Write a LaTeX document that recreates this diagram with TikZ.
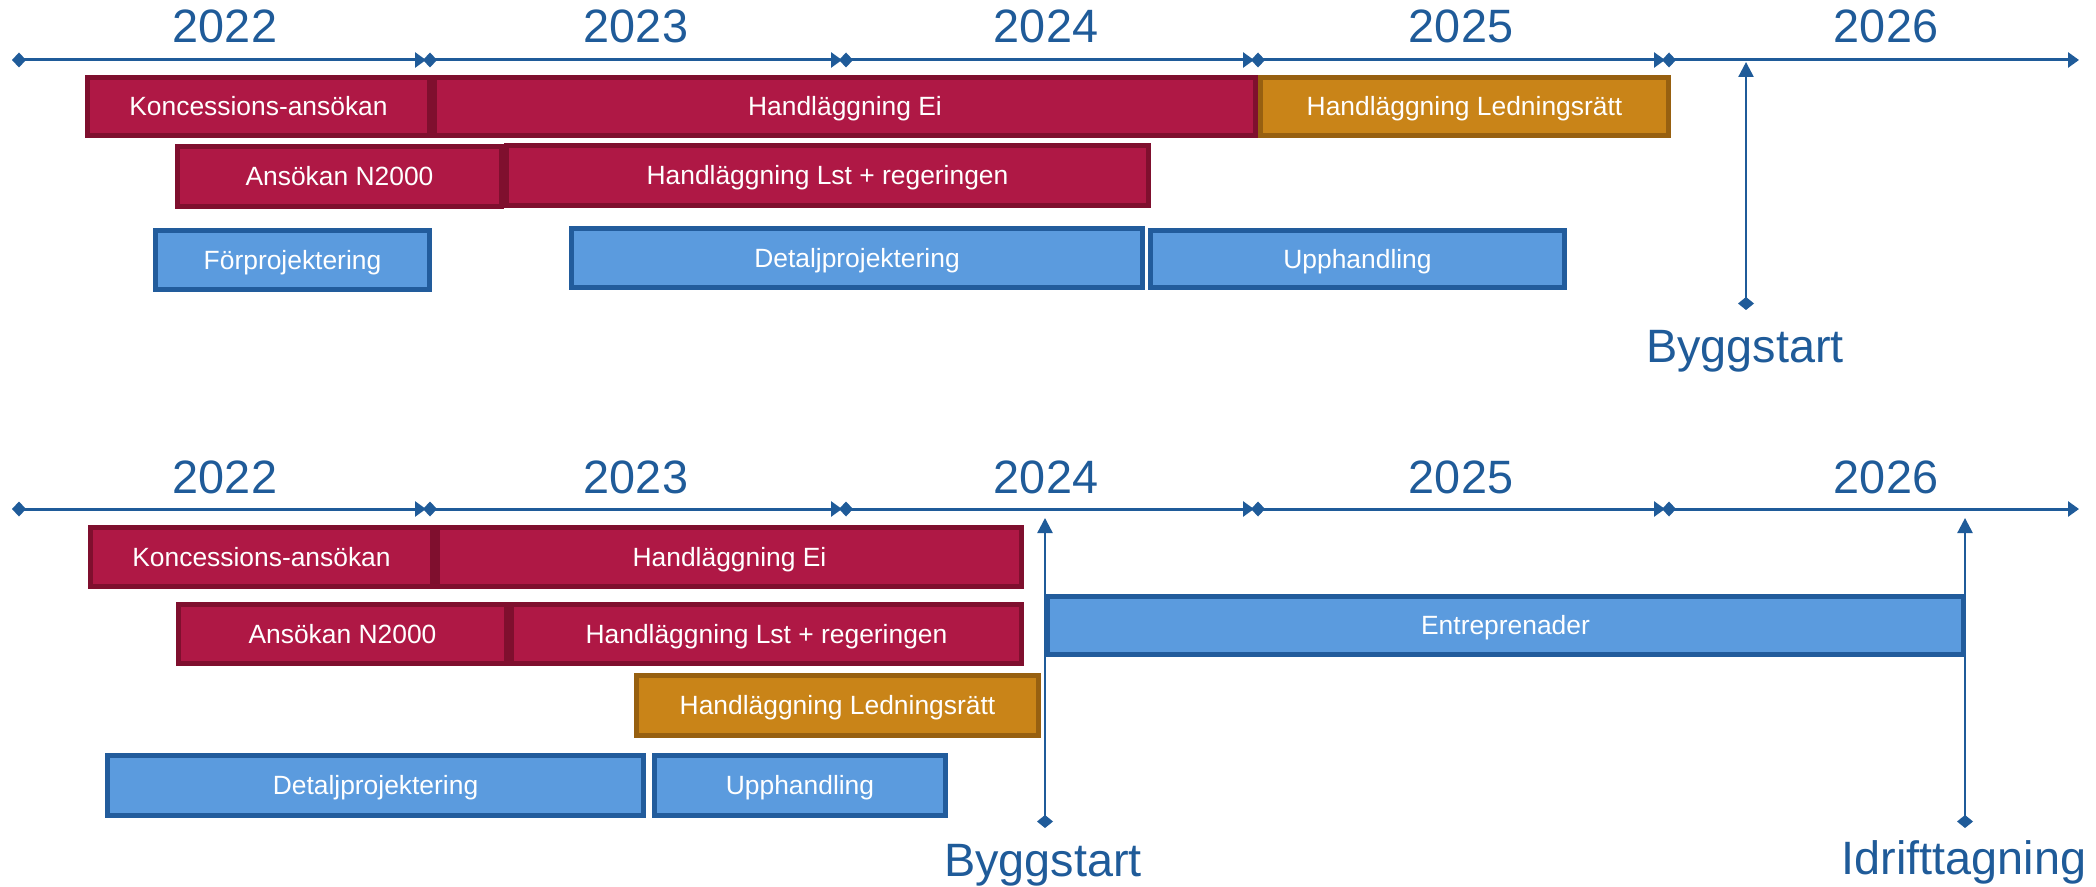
\documentclass[tikz,border=0pt]{standalone}
\usepackage{fontspec}
\setmainfont{Liberation Sans}
\usetikzlibrary{arrows.meta}
\definecolor{axisblue}{HTML}{1F5B99}
\definecolor{redfill}{HTML}{AF1845}
\definecolor{redline}{HTML}{7F0F2E}
\definecolor{orfill}{HTML}{C98418}
\definecolor{orline}{HTML}{976010}
\definecolor{blfill}{HTML}{5B9BDE}
\definecolor{blline}{HTML}{225C9C}
\tikzset{
  axisline/.style={axisblue, line width=1.5pt, {Diamond[length=7pt,width=7.5pt]}-{Triangle[length=5.5pt,width=7.5pt]}},
  mile/.style={axisblue, line width=1.2pt, {Diamond[length=6.5pt,width=8pt]}-{Triangle[length=7.5pt,width=7.5pt]}},
  bartext/.style={text=white, font=\fontsize{13.2}{15}\selectfont, text height=9.45pt, text depth=0pt, inner sep=0pt, line width=2.5pt},
  redbar/.style={bartext, fill=redfill, draw=redline},
  orangebar/.style={bartext, fill=orfill, draw=orline},
  bluebar/.style={bartext, fill=blfill, draw=blline},
  year/.style={text=axisblue, font=\fontsize{23.4}{28}\selectfont, anchor=base, inner sep=0pt},
}
\newcommand\gbar[7]{\node[#6, minimum width={(#4-#2)*0.5pt-2.5pt}, minimum height={(#5-#3)*0.5pt-2.5pt}] (#1) at ({(#2+#4)/2},{(#3+#5)/2}) {#7};}
\begin{document}
\begin{tikzpicture}[x=0.5pt,y=-0.5pt]
\path[use as bounding box] (0,0) rectangle (2096,887);
% ---------- top panel ----------
\foreach \s/\e [count=\i] in {12/426,423/842,839/1254,1251/1665,1662/2079}{
  \coordinate (ts\i) at (\s,60);
  \coordinate (te\i) at (\e,60);
  \draw[axisline] (ts\i) -- (te\i);
}
\node[year] (y1a) at (225,43) {2022};
\node[year] (y1b) at (636,43) {2023};
\node[year] (y1c) at (1046,43) {2024};
\node[year] (y1d) at (1461,43) {2025};
\node[year] (y1e) at (1886,43) {2026};
\coordinate (bs1a) at (1746,310);
\coordinate (bs1b) at (1746,62);
\draw[mile] (bs1a) -- (bs1b);
\node[year] (bs1) at (1745,362) {Byggstart};
\gbar{k1}{85}{75}{432}{138}{redbar}{Koncessions-ansökan}
\gbar{ei1}{432}{75}{1258}{138}{redbar}{Handläggning Ei}
\gbar{led1}{1258}{75}{1671}{138}{orangebar}{Handläggning Ledningsrätt}
\gbar{n1}{175}{144}{504}{209}{redbar}{Ansökan N2000}
\gbar{lst1}{504}{143}{1151}{208}{redbar}{Handläggning Lst + regeringen}
\gbar{fp1}{153}{228}{432}{292}{bluebar}{Förprojektering}
\gbar{dp1}{569}{226}{1145}{290}{bluebar}{Detaljprojektering}
\gbar{up1}{1148}{228}{1567}{290}{bluebar}{Upphandling}
% ---------- bottom panel ----------
\foreach \s/\e [count=\i] in {12/426,423/842,839/1254,1251/1665,1662/2079}{
  \coordinate (bs\i) at (\s,509);
  \coordinate (be\i) at (\e,509);
  \draw[axisline] (bs\i) -- (be\i);
}
\node[year] (y2a) at (225,493) {2022};
\node[year] (y2b) at (636,493) {2023};
\node[year] (y2c) at (1046,493) {2024};
\node[year] (y2d) at (1461,493) {2025};
\node[year] (y2e) at (1886,493) {2026};
\coordinate (bs2a) at (1045,828);
\coordinate (bs2b) at (1045,518);
\draw[mile] (bs2a) -- (bs2b);
\coordinate (id2a) at (1965,828);
\coordinate (id2b) at (1965,518);
\draw[mile] (id2a) -- (id2b);
\node[year] (bs2) at (1043,876) {Byggstart};
\node[year] (id2) at (1964,874) {Idrifttagning};
\gbar{k2}{88}{525}{435}{589}{redbar}{Koncessions-ansökan}
\gbar{ei2}{435}{525}{1024}{589}{redbar}{Handläggning Ei}
\gbar{n2}{176}{602}{509}{666}{redbar}{Ansökan N2000}
\gbar{lst2}{509}{602}{1024}{666}{redbar}{Handläggning Lst + regeringen}
\gbar{led2}{634}{673}{1041}{738}{orangebar}{Handläggning Ledningsrätt}
\gbar{dp2}{105}{753}{646}{818}{bluebar}{Detaljprojektering}
\gbar{up2}{652}{753}{948}{818}{bluebar}{Upphandling}
\gbar{ent}{1045}{594}{1966}{657}{bluebar}{Entreprenader}
\end{tikzpicture}
\end{document}
